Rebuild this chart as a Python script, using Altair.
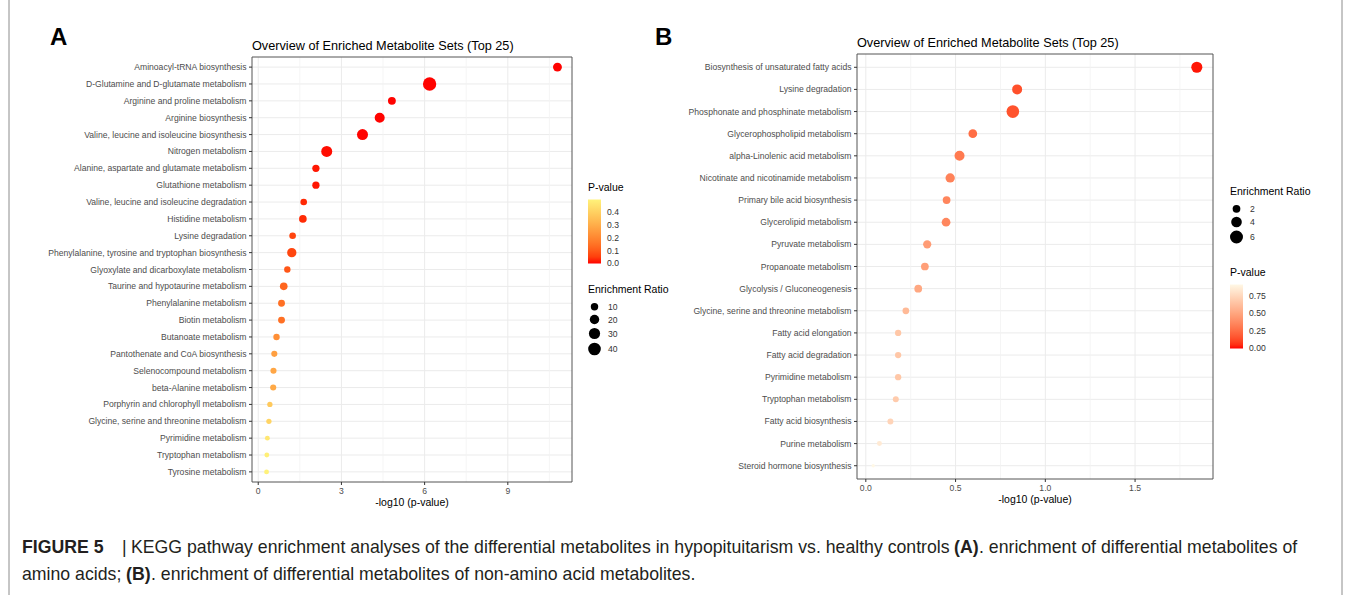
import altair as alt
import pandas as pd

FONT = "Liberation Sans"

# ---------------- Panel A data ----------------
a_pathways = [
    "Aminoacyl-tRNA biosynthesis",
    "D-Glutamine and D-glutamate metabolism",
    "Arginine and proline metabolism",
    "Arginine biosynthesis",
    "Valine, leucine and isoleucine biosynthesis",
    "Nitrogen metabolism",
    "Alanine, aspartate and glutamate metabolism",
    "Glutathione metabolism",
    "Valine, leucine and isoleucine degradation",
    "Histidine metabolism",
    "Lysine degradation",
    "Phenylalanine, tyrosine and tryptophan biosynthesis",
    "Glyoxylate and dicarboxylate metabolism",
    "Taurine and hypotaurine metabolism",
    "Phenylalanine metabolism",
    "Biotin metabolism",
    "Butanoate metabolism",
    "Pantothenate and CoA biosynthesis",
    "Selenocompound metabolism",
    "beta-Alanine metabolism",
    "Porphyrin and chlorophyll metabolism",
    "Glycine, serine and threonine metabolism",
    "Pyrimidine metabolism",
    "Tryptophan metabolism",
    "Tyrosine metabolism",
]
a_neglog10p = [10.79, 6.18, 4.82, 4.38, 3.76, 2.47, 2.08, 2.08, 1.64, 1.61, 1.24, 1.21,
               1.05, 0.92, 0.84, 0.84, 0.66, 0.58, 0.55, 0.54, 0.42, 0.385, 0.33, 0.31, 0.30]
a_ratio = [17, 45, 12, 23, 29, 29, 9.5, 9.5, 7, 11, 7, 19, 6, 11, 8, 8, 6, 5, 5, 5, 2.3, 2.3, 1, 1, 1]
a_ticks = [0, 3, 6, 9]
a_tick_labels = ["0", "3", "6", "9"]
a_minor = [1.5, 4.5, 7.5, 10.5]
a_pval_legend = [0.0, 0.1, 0.2, 0.3, 0.4]
a_ratio_legend = [10, 20, 30, 40]

# ---------------- Panel B data ----------------
b_pathways = [
    "Biosynthesis of unsaturated fatty acids",
    "Lysine degradation",
    "Phosphonate and phosphinate metabolism",
    "Glycerophospholipid metabolism",
    "alpha-Linolenic acid metabolism",
    "Nicotinate and nicotinamide metabolism",
    "Primary bile acid biosynthesis",
    "Glycerolipid metabolism",
    "Pyruvate metabolism",
    "Propanoate metabolism",
    "Glycolysis / Gluconeogenesis",
    "Glycine, serine and threonine metabolism",
    "Fatty acid elongation",
    "Fatty acid degradation",
    "Pyrimidine metabolism",
    "Tryptophan metabolism",
    "Fatty acid biosynthesis",
    "Purine metabolism",
    "Steroid hormone biosynthesis",
]
b_neglog10p = [1.844, 0.843, 0.819, 0.596, 0.522, 0.470, 0.450, 0.447, 0.342, 0.329,
               0.292, 0.223, 0.180, 0.180, 0.180, 0.167, 0.137, 0.076, 0.041]
b_ratio = [4.3, 3.5, 5.7, 2.6, 3.5, 3.0, 2.0, 2.6, 2.3, 2.0, 2.0, 1.45, 1.25, 1.25, 1.25,
           1.1, 1.1, 0.7, 0.2]
b_ticks = [0.0, 0.5, 1.0, 1.5]
b_tick_labels = ["0.0", "0.5", "1.0", "1.5"]
b_minor = [0.25, 0.75, 1.25, 1.75]
b_pval_legend = [0.0, 0.25, 0.5, 0.75]
b_ratio_legend = [2, 4, 6]

TITLE = "Overview of Enriched Metabolite Sets (Top 25)"
XTITLE = "-log10 (p-value)"


def const_text(text, x, y, size, weight="normal", align="left", baseline="alphabetic", color="#000000"):
    return alt.Chart(pd.DataFrame({"t": [text]})).mark_text(
        align=align, baseline=baseline, font=FONT, fontSize=size, fontWeight=weight, color=color
    ).encode(x=alt.value(x), y=alt.value(y), text="t:N")


def panel(pathways, neglog, ratio, ticks, tick_labels, minor, box, color_hi, pmax,
          size_dom, size_rng, pval_vals, pval_fmt, ratio_vals, color_pos, size_pos,
          letter, letter_x, title_y):
    x0, x1, y0, y1 = box
    lo, hi = min(neglog), max(neglog)
    r = hi - lo
    xs = alt.Scale(domain=[lo - 0.05 * r, hi + 0.05 * r], range=[x0, x1], nice=False, zero=False)
    ys = alt.Scale(type="point", domain=pathways, range=[y0, y1], padding=0.6)

    df = pd.DataFrame({"pathway": pathways, "neglog10p": neglog, "ratio": ratio})
    dt = pd.DataFrame({"tick": ticks, "label": tick_labels})
    dm = pd.DataFrame({"minor": minor})

    hgrid = alt.Chart(df).mark_rule(color="#EBEBEB", strokeWidth=1).encode(
        y=alt.Y("pathway:N", scale=ys, axis=None), x=alt.value(x0), x2=alt.value(x1))
    vgrid = alt.Chart(dt).mark_rule(color="#EBEBEB", strokeWidth=1).encode(
        x=alt.X("tick:Q", scale=xs, axis=None), y=alt.value(y0), y2=alt.value(y1))
    mgrid = alt.Chart(dm).mark_rule(color="#F2F2F2", strokeWidth=0.8).encode(
        x=alt.X("minor:Q", scale=xs, axis=None), y=alt.value(y0), y2=alt.value(y1))

    points = alt.Chart(df).transform_calculate(
        p="pow(10, -datum.neglog10p)"
    ).mark_circle(opacity=1).encode(
        x=alt.X("neglog10p:Q", scale=xs, axis=None),
        y=alt.Y("pathway:N", scale=ys, axis=None),
        color=alt.Color(
            "p:Q",
            scale=alt.Scale(domain=[-0.002 * pmax, pmax], range=["#FF0000", color_hi],
                            interpolate="lab"),
            legend=alt.Legend(
                title="P-value", orient="none", legendX=color_pos[0], legendY=color_pos[1],
                direction="vertical", gradientLength=64, gradientThickness=13,
                gradientStrokeWidth=0, values=pval_vals, format=pval_fmt, labelOverlap=False,
                labelFont=FONT, labelFontSize=8.6, labelColor="#333333", labelBaseline="middle",
                labelOffset=6, titleFont=FONT, titleFontSize=10.5, titleFontWeight="normal",
                titleColor="#000000", titlePadding=6,
            ),
        ),
        size=alt.Size(
            "ratio:Q",
            scale=alt.Scale(domain=size_dom, range=size_rng, zero=False),
            legend=alt.Legend(
                title="Enrichment Ratio", orient="none", legendX=size_pos[0], legendY=size_pos[1],
                values=ratio_vals, symbolFillColor="#000000", symbolStrokeWidth=0,
                symbolType="circle", symbolOpacity=1, labelFont=FONT, labelFontSize=8.6,
                labelColor="#333333", labelOffset=7, titleFont=FONT, titleFontSize=10.5,
                titleFontWeight="normal", titleColor="#000000", titlePadding=7, rowPadding=3,
                labelOverlap=False,
            ),
        ),
        tooltip=["pathway:N", "neglog10p:Q", "ratio:Q"],
    )

    border = alt.Chart(pd.DataFrame({"t": [0]})).mark_rect(
        fill="transparent", stroke="#555555", strokeWidth=1
    ).encode(x=alt.value(x0), x2=alt.value(x1), y=alt.value(y0), y2=alt.value(y1))

    yticks = alt.Chart(df).mark_rule(color="#333333", strokeWidth=1).encode(
        y=alt.Y("pathway:N", scale=ys, axis=None), x=alt.value(x0 - 3), x2=alt.value(x0))
    ylabels = alt.Chart(df).mark_text(
        align="right", baseline="middle", font=FONT, fontSize=8.6, color="#4D4D4D"
    ).encode(y=alt.Y("pathway:N", scale=ys, axis=None), x=alt.value(x0 - 5.5), text="pathway:N")
    xticks = alt.Chart(dt).mark_rule(color="#333333", strokeWidth=1).encode(
        x=alt.X("tick:Q", scale=xs, axis=None), y=alt.value(y1), y2=alt.value(y1 + 3))
    xlabels = alt.Chart(dt).mark_text(
        align="center", baseline="middle", font=FONT, fontSize=8.6, color="#4D4D4D"
    ).encode(x=alt.X("tick:Q", scale=xs, axis=None), y=alt.value(y1 + 9), text="label:N")

    xtitle = const_text(XTITLE, (x0 + x1) / 2, y1 + 21, 10.5, align="center", baseline="middle")
    title = const_text(TITLE, x0, title_y, 12.7)
    letter_t = const_text(letter, letter_x, 44.5, 24, weight="bold")

    return alt.layer(hgrid, mgrid, vgrid, points, border, yticks, ylabels, xticks, xlabels,
                     xtitle, title, letter_t)


panel_a = panel(a_pathways, a_neglog10p, a_ratio, a_ticks, a_tick_labels, a_minor,
                (252, 572, 57, 482), "#FFF27A", 0.5, [0, 50], [20, 195],
                a_pval_legend, ".1f", a_ratio_legend, (588, 183), (588, 285),
                "A", 50, 50)
panel_b = panel(b_pathways, b_neglog10p, b_ratio, b_ticks, b_tick_labels, b_minor,
                (857, 1213, 54, 479), "#FFF8E6", 0.91, [0, 7], [6, 195],
                b_pval_legend, ".2f", b_ratio_legend, (1230, 268), (1230, 187),
                "B", 655, 47)

frame = alt.Chart(pd.DataFrame({"t": [0]})).mark_rect(
    fill="transparent", stroke="#8C8C8C", strokeWidth=1
).encode(x=alt.value(9), x2=alt.value(1342), y=alt.value(-3), y2=alt.value(598))

CAP = "#231F20"
cap_size = 17.7
caption = [
    const_text("FIGURE 5", 22, 553, cap_size, weight="bold", color=CAP),
    const_text("|", 122, 553, cap_size, color=CAP),
    const_text("KEGG pathway enrichment analyses of the differential metabolites in "
               "hypopituitarism vs. healthy controls", 131, 553, cap_size, color=CAP),
    const_text("(A)", 954, 553, cap_size, weight="bold", color=CAP),
    const_text(". enrichment of differential metabolites of", 979, 553, cap_size, color=CAP),
    const_text("amino acids;", 22, 580, cap_size, color=CAP),
    const_text("(B)", 126, 580, cap_size, weight="bold", color=CAP),
    const_text(". enrichment of differential metabolites of non-amino acid metabolites.",
               151, 580, cap_size, color=CAP),
]

chart = alt.layer(frame, panel_a, panel_b, *caption).resolve_scale(
    x="independent", y="independent", color="independent", size="independent"
).properties(
    width=1355, height=595, autosize=alt.AutoSizeParams(type="none"), padding=0,
    background="white",
).configure_view(strokeWidth=0)

chart.save("out.html", embed_options={"renderer": "svg", "actions": False})
